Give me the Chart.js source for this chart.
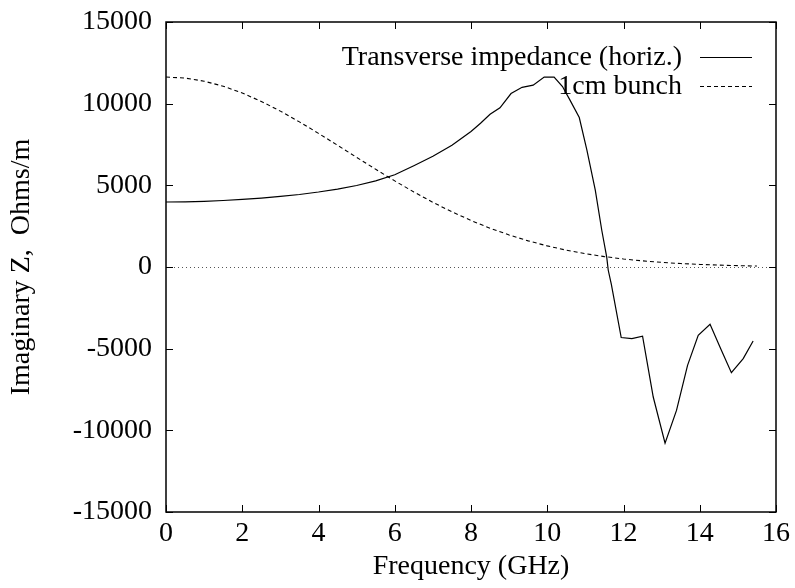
<!DOCTYPE html>
<html>
<head>
<meta charset="utf-8">
<title>Transverse impedance</title>
<script src="https://cdn.jsdelivr.net/npm/chart.js@4.4.0/dist/chart.umd.min.js"></script>
<style>
  html, body { margin: 0; padding: 0; background: #fff; }
</style>
</head>
<body>
<canvas id="chart" width="795" height="588"></canvas>
<script>
// Transverse impedance (horiz.) - frequency in GHz, Im Z in Ohms/m
const impFreq = [0, 0.5, 1, 1.5, 2, 2.5, 3, 3.5, 4, 4.5, 5, 5.5, 6, 6.5, 7, 7.5, 8, 8.25, 8.5, 8.76,
    9.05, 9.34, 9.63, 9.92, 10.18, 10.4, 10.6, 10.84, 11.04, 11.26, 11.43, 11.56, 11.6, 11.68,
    11.94, 12.22, 12.5, 12.78, 13.09, 13.39, 13.68, 13.96, 14.27, 14.55, 14.83, 15.14, 15.4];
const impZ = [3980, 3990, 4020, 4070, 4140, 4220, 4320, 4440, 4590, 4770, 4990, 5270, 5650, 6200, 6780, 7450, 8300, 8800, 9350, 9750,
    10620, 11000, 11130, 11630, 11630, 11050, 10200, 9150, 7150, 4700, 2250, 600, -200, -1050,
    -4320, -4390, -4240, -7960, -10780, -8780, -6020, -4180, -3510, -5000, -6470, -5610, -4530];

// 1cm bunch spectrum
const bunchFreq = [0, 0.5, 1, 1.5, 2, 2.5, 3, 3.5, 4, 4.5, 5, 5.5, 6, 6.5, 7, 7.5, 8, 8.5,
    9, 9.5, 10, 10.5, 11, 11.5, 12, 12.5, 13, 13.5, 14, 14.5, 15, 15.5];
const bunchZ = [11630, 11566, 11377, 11069, 10651, 10137, 9543, 8885, 8182, 7452, 6714, 5982, 5272, 4595, 3961, 3378, 2849, 2376,
    1961, 1600, 1292, 1031, 814, 636, 491, 375, 283, 212, 157, 114, 83, 59];

// axis ticks
const xTicks = [0, 2, 4, 6, 8, 10, 12, 14, 16];
const yTicks = [-15000, -10000, -5000, 0, 5000, 10000, 15000];

const serif = { family: '"Liberation Serif", "DejaVu Serif", serif', size: 28 };

function toPoints(xs, ys) {
    return xs.map((x, i) => ({ x: x, y: ys[i] }));
}

// gnuplot style frame, inward ticks, zero axis and key
const gnuFrame = {
    id: 'gnuFrame',
    beforeDatasetsDraw(chart) {
        const { ctx, chartArea: a, scales: { y } } = chart;
        const y0 = Math.round(y.getPixelForValue(0)) + 0.5;
        ctx.save();
        ctx.strokeStyle = '#555';
        ctx.lineWidth = 1;
        ctx.setLineDash([1, 3]);
        ctx.beginPath();
        ctx.moveTo(a.left, y0);
        ctx.lineTo(a.right, y0);
        ctx.stroke();
        ctx.restore();
    },
    afterDatasetsDraw(chart) {
        const { ctx, chartArea: a, scales: { x, y } } = chart;
        const tl = 7;
        ctx.save();
        ctx.strokeStyle = '#000';
        ctx.lineWidth = 1.5;
        ctx.strokeRect(a.left, a.top, a.right - a.left, a.bottom - a.top);

        ctx.lineWidth = 1;
        ctx.beginPath();
        xTicks.forEach(v => {
            const px = Math.round(x.getPixelForValue(v)) + 0.5;
            ctx.moveTo(px, a.bottom); ctx.lineTo(px, a.bottom - tl);
            ctx.moveTo(px, a.top); ctx.lineTo(px, a.top + tl);
        });
        yTicks.forEach(v => {
            const py = Math.round(y.getPixelForValue(v)) + 0.5;
            ctx.moveTo(a.left, py); ctx.lineTo(a.left + tl, py);
            ctx.moveTo(a.right, py); ctx.lineTo(a.right - tl, py);
        });
        ctx.stroke();

        // key, text right aligned with a line sample after it
        const textRight = 682, sampleFrom = 700, sampleTo = 752;
        const rows = [57, 86];
        ctx.font = serif.size + 'px ' + serif.family;
        ctx.fillStyle = '#000';
        ctx.textAlign = 'right';
        ctx.textBaseline = 'middle';
        chart.data.datasets.forEach((ds, i) => {
            const ry = rows[i];
            ctx.fillText(ds.label, textRight, ry + 1);
            ctx.strokeStyle = ds.borderColor;
            ctx.lineWidth = ds.borderWidth;
            ctx.setLineDash(ds.borderDash || []);
            ctx.beginPath();
            ctx.moveTo(sampleFrom, ry + 0.5);
            ctx.lineTo(sampleTo, ry + 0.5);
            ctx.stroke();
        });
        ctx.restore();
    }
};

const ctx = document.getElementById('chart').getContext('2d');
const chart = new Chart(ctx, {
    type: 'line',
    data: {
        datasets: [
            {
                label: 'Transverse impedance (horiz.)',
                data: toPoints(impFreq, impZ),
                borderColor: '#000',
                borderWidth: 1.2,
                pointRadius: 0,
                tension: 0,
                fill: false
            },
            {
                label: '1cm bunch',
                data: toPoints(bunchFreq, bunchZ),
                borderColor: '#000',
                borderWidth: 1.1,
                borderDash: [4, 3],
                pointRadius: 0,
                tension: 0,
                fill: false
            }
        ]
    },
    options: {
        responsive: false,
        animation: false,
        layout: { padding: { left: 0, right: 19, top: 22, bottom: 0 } },
        plugins: {
            legend: { display: false },
            tooltip: { enabled: false }
        },
        scales: {
            x: {
                type: 'linear',
                min: 0,
                max: 16,
                afterBuildTicks: s => { s.ticks = xTicks.map(v => ({ value: v })); },
                ticks: { color: '#000', font: serif, padding: 5, maxRotation: 0, callback: v => String(v) },
                grid: { display: false, drawTicks: false },
                border: { display: false },
                title: { display: true, text: 'Frequency (GHz)', color: '#000', font: serif, padding: { top: 0, bottom: 5 } },
                afterFit: s => { s.height = 76; s.paddingLeft = 0; s.paddingRight = 0; }
            },
            y: {
                type: 'linear',
                min: -15000,
                max: 15000,
                afterBuildTicks: s => { s.ticks = yTicks.map(v => ({ value: v })); },
                ticks: { color: '#000', font: serif, padding: 14, callback: v => String(v) },
                grid: { display: false, drawTicks: false },
                border: { display: false },
                title: { display: true, text: 'Imaginary Z,  Ohms/m', color: '#000', font: serif, padding: { top: 5, bottom: 0 } },
                afterFit: s => { s.width = 166; s.paddingTop = 0; s.paddingBottom = 0; }
            }
        }
    },
    plugins: [gnuFrame]
});
</script>
</body>
</html>
